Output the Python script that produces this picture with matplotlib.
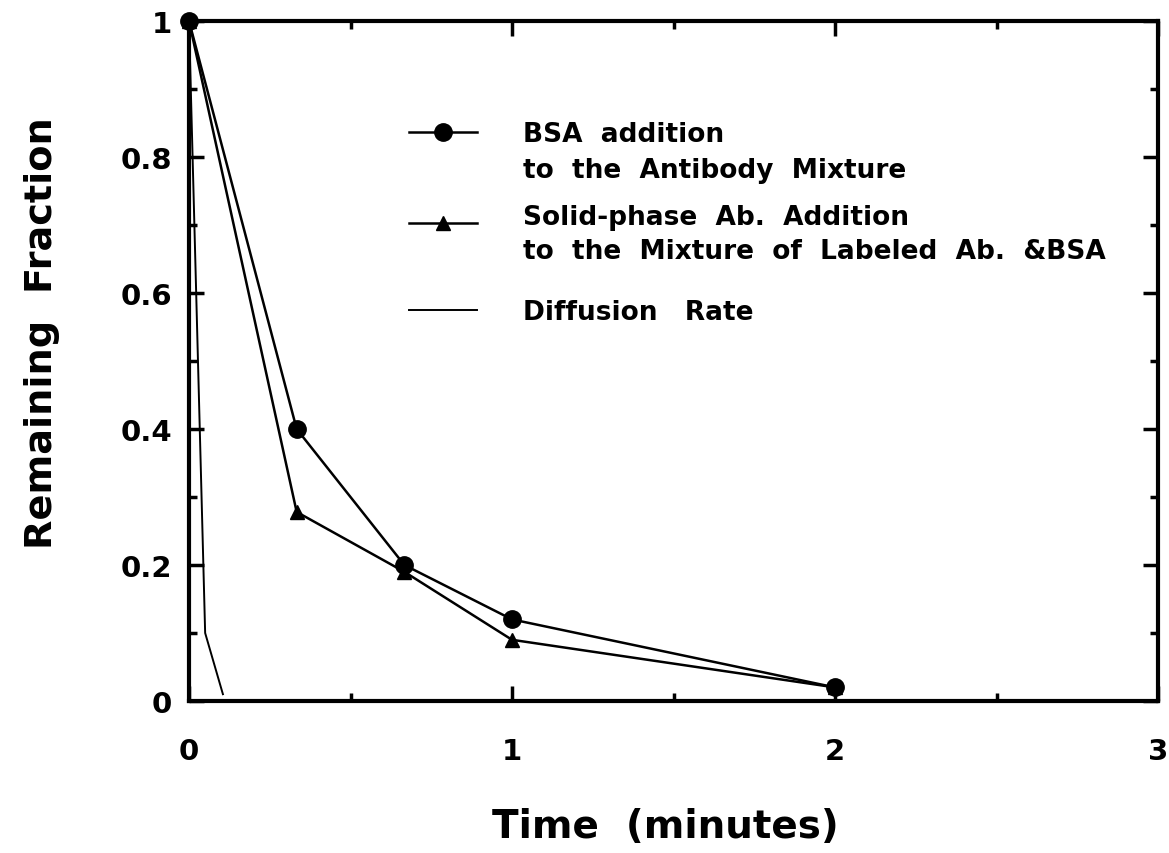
import matplotlib
matplotlib.use("Agg")
import matplotlib.pyplot as plt
from matplotlib.lines import Line2D
from matplotlib.ticker import MultipleLocator

# ---- data ----
time_pts = [0, 1/3, 2/3, 1, 2]
bsa_values = [1.0, 0.40, 0.20, 0.12, 0.02]
solid_values = [1.0, 0.278, 0.19, 0.09, 0.02]
diff_time = [0, 0.05, 0.105]
diff_values = [1.0, 0.10, 0.01]

xticks = [0, 1, 2, 3]
xtick_labels = ["0", "1", "2", "3"]
yticks = [0, 0.2, 0.4, 0.6, 0.8, 1.0]
ytick_labels = ["0", "0.2", "0.4", "0.6", "0.8", "1"]

legend_lines = [
    ("BSA  addition", "to  the  Antibody  Mixture"),
    ("Solid-phase  Ab.  Addition", "to  the  Mixture  of  Labeled  Ab.  &BSA"),
    ("Diffusion   Rate", None),
]

FONT = "DejaVu Sans"

fig = plt.figure(figsize=(11.69, 8.54), dpi=100)
ax = fig.add_axes([189/1169, 1-702/854, 969/1169, 680/854])

ax.plot(time_pts, bsa_values, color="black", lw=1.8, marker="o", ms=12.5,
        clip_on=False, zorder=3)
ax.plot(time_pts, solid_values, color="black", lw=1.8, marker="^", ms=10.5,
        clip_on=False, zorder=3)
ax.plot(diff_time, diff_values, color="black", lw=1.4, clip_on=False, zorder=3)

ax.set_xlim(0, 3)
ax.set_ylim(0, 1)

for s in ax.spines.values():
    s.set_linewidth(3)

ax.set_xticks(xticks)
ax.set_xticklabels(xtick_labels)
ax.set_yticks(yticks)
ax.set_yticklabels(ytick_labels)
ax.xaxis.set_minor_locator(MultipleLocator(0.5))
ax.yaxis.set_minor_locator(MultipleLocator(0.1))
ax.tick_params(which="both", direction="in", top=True, right=True, width=2.5)
ax.tick_params(which="major", length=11)
ax.tick_params(which="minor", length=6)
ax.tick_params(axis="x", which="major", pad=26)
ax.tick_params(axis="y", which="major", pad=12)
for lab in ax.get_xticklabels() + ax.get_yticklabels():
    lab.set_fontfamily(FONT)
    lab.set_fontweight("bold")
    lab.set_fontsize(21)

fig.text(42/1169, 1-333/854, "Remaining  Fraction", rotation=90, ha="center",
         va="center", fontsize=27.5, fontweight="bold", family=FONT)
fig.text(665/1169, 1-827/854, "Time  (minutes)", ha="center", va="center",
         fontsize=28, fontweight="bold", family=FONT)

# ---- manual legend ----
handle_x0, handle_x1, handle_xm = 0.227, 0.297, 0.262
text_x = 0.345
handle_y = [0.837, 0.703, 0.575]
text_y = [(0.834, 0.781), (0.712, 0.662), (0.572, None)]
markers = ["o", "^", None]
msizes = [12.5, 10.5, 0]
lws = [1.8, 1.8, 1.4]
for (l1, l2), hy, (ty1, ty2), mk, msz, lw in zip(legend_lines, handle_y, text_y,
                                                markers, msizes, lws):
    ax.add_line(Line2D([handle_x0, handle_x1], [hy, hy], color="black", lw=lw,
                       transform=ax.transAxes))
    if mk:
        ax.add_line(Line2D([handle_xm], [hy], marker=mk, ms=msz, color="black",
                           lw=0, transform=ax.transAxes))
    ax.text(text_x, ty1, l1, transform=ax.transAxes, ha="left", va="center",
            fontsize=19, fontweight="bold", family=FONT)
    if l2:
        ax.text(text_x, ty2, l2, transform=ax.transAxes, ha="left", va="center",
                fontsize=19, fontweight="bold", family=FONT)

fig.savefig("out.png", dpi=100)
